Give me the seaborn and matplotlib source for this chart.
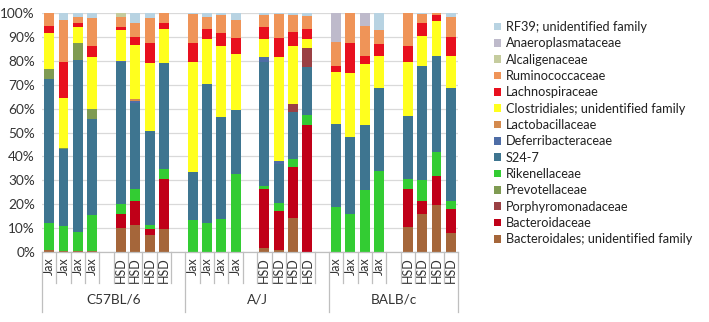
import numpy as np
import pandas as pd
import matplotlib
matplotlib.use("Agg")
import matplotlib.pyplot as plt
import matplotlib.transforms as mtransforms
from matplotlib.patches import Patch
import seaborn as sns

# ---------------- data ----------------
strains = ["C57BL/6", "A/J", "BALB/c"]
vendors = ["Jax", "Jax", "Jax", "Jax", "HSD", "HSD", "HSD", "HSD"]

# legend order (top to bottom as displayed)
legend_families = [
    "RF39; unidentified family", "Anaeroplasmataceae", "Alcaligenaceae",
    "Ruminococcaceae", "Lachnospiraceae", "Clostridiales; unidentified family",
    "Lactobacillaceae", "Deferribacteraceae", "S24-7", "Rikenellaceae",
    "Prevotellaceae", "Porphyromonadaceae", "Bacteroidaceae",
    "Bacteroidales; unidentified family",
]

# 24 bars: C57 Jax x4, C57 HSD x4, A/J Jax x4, A/J HSD x4, BALB Jax x4, BALB HSD x4
bacteroidales = [0.8, 0.3, 0.3, 0.3, 10, 11.5, 7, 9.5, 0, 0, 0, 0, 1.5, 1, 14, 0, 0, 0, 0, 0, 10.5, 16, 19.5, 8]
bacteroidaceae = [0, 0, 0, 0, 6, 10, 2.5, 21, 0, 0, 0, 0, 25, 16, 21.5, 53, 0, 0, 0, 0, 16, 5.5, 12.5, 10]
rikenellaceae = [11.2, 10.7, 8.2, 15.2, 4, 5, 2, 4, 13.5, 12, 14, 32.5, 1, 3.5, 3.5, 4.5, 19, 16, 26, 34, 4, 8.5, 10, 3.5]
s24_7 = [60.5, 32, 72, 40, 59.5, 36, 39, 44, 20, 58.5, 42.5, 27, 52, 16.5, 19.5, 19.8, 34.5, 32, 27, 34.5, 26.5, 48, 40, 47]
deferribacteraceae = [0, 0, 0, 0, 0.5, 0.5, 0, 0, 0, 0, 0, 0, 2, 1, 0, 0, 0, 0, 0, 0, 0, 0, 0, 0]
porphyromonadaceae = [0, 0, 0, 0, 0, 0, 0, 0, 0, 0, 0, 0, 0, 0, 3.3, 8, 0, 0, 0, 0, 0, 0, 0, 0]
prevotellaceae = [4, 0.5, 7, 4.5, 0, 0, 0, 0, 0, 0, 0, 0, 0, 0, 0, 0, 0, 0, 0, 0, 0, 0, 0, 0]
lactobacillaceae = [0, 0, 0, 0, 0, 1, 0, 0, 0, 0, 0, 0, 0, 0, 0, 0, 0, 0, 0, 0, 0, 0, 0, 0]
clostridiales = [15, 21, 6.5, 21.5, 13, 22.5, 28.5, 14.5, 46, 18.5, 29.5, 23.5, 7.5, 43.5, 24.2, 4, 22, 27, 25.5, 13.5, 22.5, 12.5, 14.5, 13.5]
lachnospiraceae = [3, 15, 2, 4.5, 1, 3.5, 8.5, 2.5, 8, 4.5, 5.5, 6.5, 5, 8, 5.8, 4, 2.5, 12.5, 3.5, 5, 6.5, 5.5, 2.5, 8]
ruminococcaceae = [5.5, 17.5, 2.5, 12, 4.5, 6, 10.5, 4, 12, 5, 7.5, 7.5, 5, 10, 7, 5.3, 10, 12.5, 12.5, 6, 14, 3.5, 1, 8.5]
alcaligenaceae = [0, 0, 0, 0, 1.5, 0, 0, 0, 0, 0, 0, 0, 0, 0, 0, 0, 0, 0, 0, 0, 0, 0, 0, 0]
anaeroplasmataceae = [0, 0, 0, 0, 0, 0, 0, 0, 0, 0, 0, 0, 0, 0, 0, 0, 12, 0, 5.5, 0, 0, 0, 0, 0]
rf39 = [0, 3, 1.5, 2, 0, 4, 2, 0, 0.5, 1.5, 1, 3, 1, 0.5, 1, 1.4, 0, 0, 0, 7, 0, 0.5, 0, 1.5]

# stacking order bottom -> top
stack = [
    ("Bacteroidales; unidentified family", bacteroidales, "#A5663A"),
    ("Bacteroidaceae", bacteroidaceae, "#C00018"),
    ("Rikenellaceae", rikenellaceae, "#33CC33"),
    ("S24-7", s24_7, "#3E7590"),
    ("Deferribacteraceae", deferribacteraceae, "#4E6DA6"),
    ("Porphyromonadaceae", porphyromonadaceae, "#9A4044"),
    ("Prevotellaceae", prevotellaceae, "#7F9B52"),
    ("Lactobacillaceae", lactobacillaceae, "#D48A4E"),
    ("Clostridiales; unidentified family", clostridiales, "#FFFF1E"),
    ("Lachnospiraceae", lachnospiraceae, "#E8101E"),
    ("Ruminococcaceae", ruminococcaceae, "#EF9458"),
    ("Alcaligenaceae", alcaligenaceae, "#C5CC9E"),
    ("Anaeroplasmataceae", anaeroplasmataceae, "#BEBACB"),
    ("RF39; unidentified family", rf39, "#B8D3E2"),
]
colors = {name: c for name, _, c in stack}

# slot positions (group of 10 slots: 4 Jax, gap, 4 HSD, gap)
slot_ids = []
for g in range(3):
    for i in range(8):
        slot_ids.append(g * 10 + (i if i < 4 else i + 1))
n_slots = 29
order = [str(k) for k in range(n_slots)]

vals = np.array([v for _, v, _ in stack], dtype=float)
vals = vals / vals.sum(axis=0, keepdims=True) * 100
cum = np.cumsum(vals, axis=0)

rows = []
for li, (name, _, _) in enumerate(stack):
    for b in range(24):
        rows.append({"slot": str(slot_ids[b]), "family": name, "cum": cum[li, b]})
df = pd.DataFrame(rows)

# ---------------- plot ----------------
plt.rcParams["font.family"] = ["Lato", "DejaVu Sans"]
W, H = 709, 322
fig = plt.figure(figsize=(W / 100, H / 100), dpi=100)
ax_left, ax_right, ax_top, ax_bot = 42, 458, 13, 252
ax = fig.add_axes([ax_left / W, (H - ax_bot) / H, (ax_right - ax_left) / W, (ax_bot - ax_top) / H])

for li in range(len(stack) - 1, -1, -1):
    name = stack[li][0]
    sub = df[df["family"] == name]
    sns.barplot(data=sub, x="slot", y="cum", order=order, color=colors[name],
                saturation=1, width=0.69, errorbar=None, linewidth=0, ax=ax)

ax.set_xlim(-0.5, n_slots - 0.5)
ax.set_ylim(0, 100)
ax.set_yticks(np.arange(0, 101, 10))
ax.set_yticklabels([f"{v}%" for v in range(0, 101, 10)], fontsize=9.8, color="#333333")
ax.yaxis.grid(True, color="#D9D9D9", linewidth=0.9)
ax.set_axisbelow(True)
ax.tick_params(axis="y", length=0, pad=5)
for s in ["left", "top", "right"]:
    ax.spines[s].set_visible(False)
ax.spines["bottom"].set_color("#BFBFBF")
ax.spines["bottom"].set_linewidth(0.9)
ax.set_xlabel("")
ax.set_ylabel("")

# tick labels
ticklabels = [""] * n_slots
for b in range(24):
    ticklabels[slot_ids[b]] = vendors[b % 8]
ax.set_xticks(range(n_slots))
ax.set_xticklabels(ticklabels, rotation=90, fontsize=9, color="#333333")
ax.tick_params(axis="x", length=0, pad=4)

# category separators
trans = mtransforms.blended_transform_factory(ax.transData, ax.transAxes)
ax_h = ax_bot - ax_top
short = -(283 - ax_bot) / ax_h
long_ = -(312 - ax_bot) / ax_h
group_edges = {-0.5, 9.5, 19.5, 28.5}
for k in range(n_slots + 1):
    xb = k - 0.5
    y2 = long_ if xb in group_edges else short
    ax.plot([xb, xb], [0, y2], transform=trans, color="#BFBFBF", lw=0.9, clip_on=False)

group_centers = [4.5, 14.5, 24.0]
for s, cx in zip(strains, group_centers):
    ax.text(cx, -(300 - ax_bot) / ax_h, s, transform=trans, ha="center", va="center",
            fontsize=9.8, color="#333333")

# legend
handles = [Patch(facecolor=colors[f], edgecolor="none") for f in legend_families]
fig.legend(handles, legend_families, loc="upper left",
           bbox_to_anchor=(494 / W, 1 - 21 / H), frameon=False, fontsize=9.2,
           handlelength=0.55, handleheight=0.55, handletextpad=0.35,
           labelspacing=0.34, borderpad=0, borderaxespad=0, labelcolor="#222222")

fig.savefig("out.png", dpi=100)
